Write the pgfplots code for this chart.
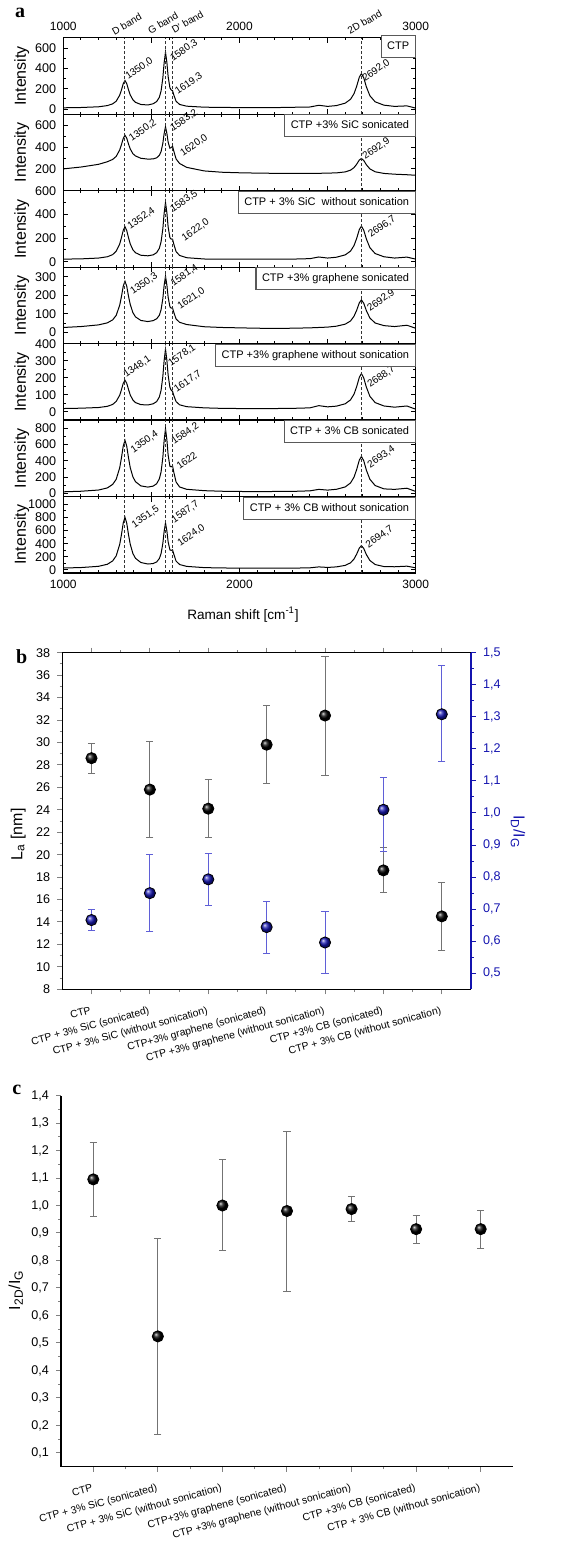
\documentclass[border=0pt]{standalone}
\usepackage{fontspec}
\setmainfont{Liberation Sans}
\newfontfamily\serifbf{Liberation Serif}
\usepackage{pgfplots}
\pgfplotsset{compat=1.18}
\usepackage{pgfplotstable}

\definecolor{oblue}{RGB}{20,20,175}
\definecolor{eblue}{RGB}{95,95,215}
\newcommand\fs[1]{\fontsize{#1}{#1}\selectfont}

% Raman spectra, one column per sample
\pgfplotstableread{
x s1 s2 s3 s4 s5 s6 s7
1000 12 201 22 26 19 19 30
1100 15 218 24 31 21 26 37
1200 22 243 31 40 25 41 56
1250 34 267 42 51 32 67 87
1280 51 288 60 67 43 110 138
1300 77 316 89 91 61 172 214
1320 136 375 150 146 97 314 388
1330 188 424 204 193 130 437 538
1340 249 481 265 248 167 580 713
1350 282 511 297 276 186 653 803
1360 251 485 265 249 168 581 714
1370 191 431 204 195 132 439 539
1380 139 385 151 150 99 316 391
1395 91 341 101 106 69 203 250
1410 66 320 76 83 54 143 177
1440 45 299 55 64 42 92 114
1480 40 291 50 58 40 77 91
1510 52 293 58 63 47 89 98
1530 74 303 77 73 60 119 123
1545 116 326 114 92 87 178 174
1555 179 361 170 122 127 265 250
1565 309 438 281 183 209 444 406
1572 452 524 407 251 299 643 582
1580 562 590 503 303 369 797 716
1588 458 528 414 254 302 656 592
1595 321 448 295 190 216 471 429
1605 210 392 204 138 144 334 306
1612 189 397 192 131 128 326 299
1620 181 410 191 131 120 338 307
1628 135 360 145 105 93 252 233
1640 77 293 86 72 60 140 136
1660 45 251 53 54 41 79 83
1700 28 215 34 42 30 50 55
1800 18 182 23 30 23 33 36
1900 16 170 21 26 20 26 31
2000 14 165 21 24 19 23 28
2100 14 162 21 22 19 22 27
2200 14 160 22 21 19 23 27
2300 17 160 22 22 20 24 28
2400 20 160 26 24 23 31 33
2450 37 160 40 26 36 49 47
2500 26 162 31 28 29 40 39
2550 34 164 38 33 33 50 47
2600 58 173 58 44 47 79 70
2630 96 189 90 61 70 128 109
2650 152 213 137 87 104 200 167
2665 225 244 198 119 148 294 242
2680 315 283 273 159 203 409 334
2692 350 297 302 175 225 454 370
2705 309 279 268 157 200 402 328
2720 219 239 193 117 145 286 235
2740 131 201 119 77 91 173 145
2770 71 174 69 50 54 96 83
2820 38 159 42 36 34 55 52
2880 26 152 31 31 27 49 49
2950 31 147 39 38 34 63 58
3000 9 142 22 22 15 24 33
}\spectra

% crystallite size L_a [nm]
\pgfplotstableread{
x y ep em
0 28.6 1.35 1.35
1 25.8 4.25 4.3
2 24.1 2.6 2.6
3 29.8 3.5 3.5
4 32.4 5.3 5.3
5 18.6 2.0 2.0
6 14.5 3.0 3.0
}\la

% I_D/I_G
\pgfplotstableread{
x y ep em
0 0.666 0.032 0.032
1 0.750 0.121 0.120
2 0.793 0.082 0.081
3 0.644 0.080 0.082
4 0.596 0.098 0.097
5 1.010 0.101 0.130
6 1.308 0.152 0.147
}\idig

% I_2D/I_G
\pgfplotstableread{
x y ep em
0 1.095 0.135 0.135
1 0.524 0.356 0.358
2 1.000 0.166 0.164
3 0.980 0.290 0.293
4 0.987 0.047 0.047
5 0.914 0.051 0.051
6 0.914 0.069 0.071
}\iddig

\tikzset{
  pk/.style={rotate=35, anchor=base west, font=\fs{5}, inner sep=0pt},
  bx/.style={draw=black!65, fill=white, line width=0.6pt, anchor=north east,
    font=\fs{5.5}, inner xsep=3pt, inner ysep=2.8pt, text height=4.2pt, text depth=1.2pt},
  bl/.style={dash pattern=on 1.5pt off 1pt, black!80, line width=0.4pt},
}
\pgfplotsset{
  /pgf/number format/assume math mode=true,
  /pgf/number format/1000 sep={},
  spec/.style={
    scale only axis, anchor=north west, width=176.2pt, height=38.24pt,
    xmin=1000, xmax=3000, xtick={1000,1500,...,3000}, minor x tick num=4,
    xticklabels={}, tick align=inside, clip=false,
    major tick length=2.5pt, minor tick length=1.3pt,
    axis line style={line width=0.6pt}, tick style={black, line width=0.5pt},
    minor y tick num=1,
    yticklabel style={font=\fs{6.3}},
    xticklabel style={font=\fs{6}},
    ylabel={Intensity},
    ylabel style={font=\fs{8}, at={(axis description cs:-0.118,0.5)}, anchor=center},
  },
  cat/.style={
    scale only axis, anchor=north west, xmin=-0.5, xmax=6.5,
    tick align=outside, major tick length=2.5pt, minor tick length=1.3pt,
    axis line style={line width=0.6pt}, tick style={line width=0.5pt},
    xtick={0,...,6}, minor x tick num=1,
    xticklabels={CTP, {CTP + 3\% SiC (sonicated)}, {CTP + 3\% SiC (without sonication)},
      {CTP+3\% graphene (sonicated)}, {CTP +3\% graphene (without sonication)},
      {CTP +3\% CB (sonicated)}, {CTP + 3\% CB (without sonication)}},
    xticklabel style={rotate=15, anchor=north east, font=\fs{5.2}, yshift=-2pt, xshift=1pt},
    yticklabel style={font=\fs{6.3}},
    minor y tick num=1,
  },
  ballmark/.style={only marks, mark=ball, mark size=2.8pt, mark options={ball color=#1}},
}
\newcommand\pk[3]{\node[pk] at (axis cs:#1,#2) {#3};}
\newcommand\bandlines{%
  \draw[bl] ({axis cs:1348,0}|-{rel axis cs:0,0}) -- ({axis cs:1348,0}|-{rel axis cs:0,1});
  \draw[bl] ({axis cs:1581,0}|-{rel axis cs:0,0}) -- ({axis cs:1581,0}|-{rel axis cs:0,1});
  \draw[bl] ({axis cs:1620,0}|-{rel axis cs:0,0}) -- ({axis cs:1620,0}|-{rel axis cs:0,1});
  \draw[bl] ({axis cs:2690,0}|-{rel axis cs:0,0}) -- ({axis cs:2690,0}|-{rel axis cs:0,1});
}
\newcommand\spec[1]{\addplot[black, line width=0.5pt] table[x=x, y=#1] {\spectra};}

\begin{document}
\begin{tikzpicture}
\path[use as bounding box] (0,0) rectangle (281pt,-775.5pt);

% ---------- panel a ----------
\node[font=\serifbf\bfseries\fs{10}] at (10pt,-6.5pt) {a};

\begin{axis}[spec, at={(31.65pt,-18.85pt)}, ymin=-51, ymax=705, ytick={0,200,400,600},
  xticklabels={1000,,2000,,3000}, xticklabel pos=upper]
\spec{s1}
\bandlines
\pk{1367}{287}{1350,0}
\pk{1621}{468}{1580,3}
\pk{1649}{139}{1619,3}
\pk{2712}{270}{2692,0}
\node[bx, yshift=1.3pt] at (rel axis cs:1,1) {CTP};
\node[font=\fs{5}, rotate=30] at (axis cs:1360,841) {D band};
\node[font=\fs{5}, rotate=30] at (axis cs:1566,851) {G band};
\node[font=\fs{5}, rotate=30] at (axis cs:1705,860) {D' band};
\node[font=\fs{5}, rotate=30] at (axis cs:2710,860) {2D band};
\end{axis}

\begin{axis}[spec, at={(31.65pt,-57.085pt)}, ymin=0, ymax=706, ytick={200,400,600}]
\spec{s2}
\bandlines
\pk{1388}{452}{1350,2}
\pk{1621}{544}{1583,2}
\pk{1678}{313}{1620,0}
\pk{2713}{283}{2692,9}
\node[bx] at (rel axis cs:1,1) {CTP +3\% SiC sonicated};
\end{axis}

\begin{axis}[spec, at={(31.65pt,-95.32pt)}, ymin=-46, ymax=603, ytick={0,200,400,600}]
\spec{s3}
\bandlines
\pk{1379}{272}{1352,4}
\pk{1621}{415}{1583,5}
\pk{1687}{172}{1622,0}
\pk{2745}{200}{2696,7}
\node[bx] at (rel axis cs:1,1) {CTP + 3\% SiC\ \ without sonication};
\end{axis}

\begin{axis}[spec, at={(31.65pt,-133.555pt)}, ymin=-61, ymax=352, ytick={0,100,200,300}]
\spec{s4}
\bandlines
\pk{1394}{201}{1350,3}
\pk{1624}{246}{1581,4}
\pk{1662}{120}{1621,0}
\pk{2740}{111}{2692,9}
\node[bx] at (rel axis cs:1,1) {CTP +3\% graphene sonicated};
\end{axis}

\begin{axis}[spec, at={(31.65pt,-171.79pt)}, ymin=-49, ymax=402, ytick={0,100,200,300,400}]
\spec{s5}
\bandlines
\pk{1356}{198}{1348,1}
\pk{1610}{266}{1578,1}
\pk{1643}{112}{1617,7}
\pk{2741}{139}{2688,7}
\node[bx] at (rel axis cs:1,1) {CTP +3\% graphene without sonication};
\end{axis}

\begin{axis}[spec, at={(31.65pt,-210.025pt)}, ymin=-39, ymax=902, ytick={0,200,400,600,800}]
\spec{s6}
\bandlines
\pk{1397}{492}{1350,4}
\pk{1628}{594}{1584,2}
\pk{1658}{287}{1622}
\pk{2741}{308}{2693,4}
\node[bx] at (rel axis cs:1,1) {CTP + 3\% CB sonicated};
\end{axis}

\begin{axis}[spec, at={(31.65pt,-248.26pt)}, ymin=-46, ymax=1119, ytick={0,200,400,600,800,1000},
  xticklabels={1000,,2000,,3000},
  xlabel={Raman shift [cm\textsuperscript{-1}]},
  xlabel style={font=\fs{6.8}, at={(axis description cs:0.51,-0.55)}, anchor=center}]
\spec{s7}
\bandlines
\pk{1403}{634}{1351,5}
\pk{1628}{710}{1587,7}
\pk{1662}{354}{1624,0}
\pk{2731}{330}{2694,7}
\node[bx] at (rel axis cs:1,1) {CTP + 3\% CB without sonication};
\end{axis}

% ---------- panel b ----------
\node[font=\serifbf\bfseries\fs{10}] at (10.85pt,-328.35pt) {b};

\begin{axis}[cat, at={(31.15pt,-326.35pt)}, width=204.35pt, height=168.3pt,
  ymin=8, ymax=38, ytick={8,10,...,38},
  axis x line*=box, axis y line*=left,
  ylabel={L\textsubscript{a} [nm]},
  ylabel style={font=\fs{8}, at={(axis description cs:-0.108,0.46)}, anchor=center}]
\addplot[ballmark=black,
  error bars/.cd, y dir=both, y explicit,
  error bar style={black!55, line width=0.5pt},
  error mark options={black!55, mark size=1.8pt, line width=0.5pt, rotate=90}]
  table[x=x, y=y, y error plus=ep, y error minus=em] {\la};
\end{axis}

\begin{axis}[cat, at={(31.15pt,-326.35pt)}, width=204.35pt, height=168.3pt,
  ymin=0.45, ymax=1.5, ytick={0.5,0.6,0.7,0.8,0.9,1.0,1.1,1.2,1.3,1.4,1.5},
  axis x line=none, axis y line*=right,
  y axis line style={oblue}, tick style={oblue},
  yticklabel style={oblue, /pgf/number format/.cd, fixed, fixed zerofill, precision=1, use comma, 1000 sep={}},
  ylabel={I\textsubscript{D}/I\textsubscript{G}},
  ylabel style={oblue, font=\fs{8}, rotate=180, at={(axis description cs:1.115,0.468)}, anchor=center}]
\addplot[ballmark=oblue,
  error bars/.cd, y dir=both, y explicit,
  error bar style={eblue, line width=0.5pt},
  error mark options={eblue, mark size=1.8pt, line width=0.5pt, rotate=90}]
  table[x=x, y=y, y error plus=ep, y error minus=em] {\idig};
\end{axis}

% ---------- panel c ----------
\node[font=\serifbf\bfseries\fs{10}] at (8.35pt,-545pt) {c};

\begin{axis}[cat, at={(30.5pt,-547.75pt)}, width=226pt, height=185.6pt,
  ymin=0.05, ymax=1.4, ytick={0.1,0.2,0.3,0.4,0.5,0.6,0.7,0.8,0.9,1.0,1.1,1.2,1.3,1.4},
  axis x line*=bottom, axis y line*=left,
  yticklabel style={/pgf/number format/.cd, fixed, fixed zerofill, precision=1, use comma, 1000 sep={}},
  ylabel={I\textsubscript{2D}/I\textsubscript{G}},
  ylabel style={font=\fs{8}, at={(axis description cs:-0.1,0.476)}, anchor=center}]
\addplot[ballmark=black,
  error bars/.cd, y dir=both, y explicit,
  error bar style={black!55, line width=0.5pt},
  error mark options={black!55, mark size=1.8pt, line width=0.5pt, rotate=90}]
  table[x=x, y=y, y error plus=ep, y error minus=em] {\iddig};
\end{axis}
\end{tikzpicture}
\end{document}
